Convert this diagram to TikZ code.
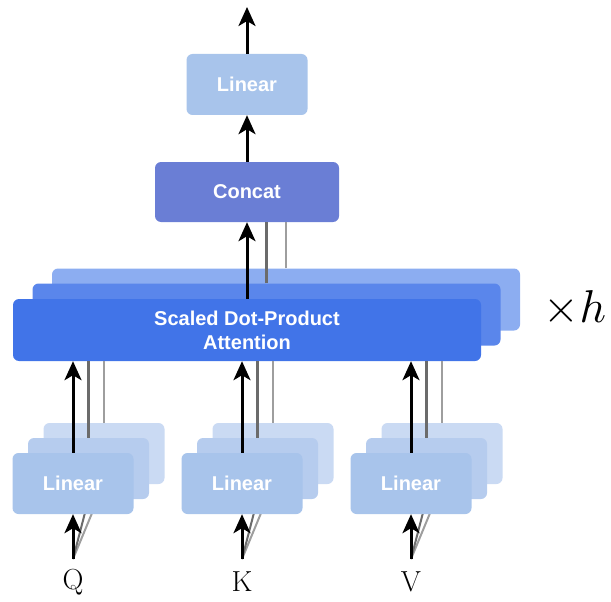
\documentclass[tikz,border=0pt]{standalone}
\usepackage{fontspec}
\setsansfont{Liberation Sans}
\usetikzlibrary{arrows.meta}

\definecolor{linfront}{HTML}{A8C4EB}
\definecolor{linmid}{HTML}{B6CCEE}
\definecolor{linback}{HTML}{CADAF3}
\definecolor{attfront}{HTML}{4174E8}
\definecolor{attmid}{HTML}{5A86EB}
\definecolor{attback}{HTML}{8CADF1}
\definecolor{concatblue}{HTML}{6A7ED5}

\tikzset{
  block/.style={rectangle,rounded corners=6pt,inner sep=0pt,text=white,
    font=\sffamily\bfseries\fontsize{20}{24}\selectfont},
  linbox/.style={block,minimum width=121pt,minimum height=61pt},
  attbox/.style={block,minimum width=468pt,minimum height=62pt,align=center},
  arr/.style={line width=3pt,-{Stealth[length=19pt,width=17pt,inset=5pt]}},
  darkline/.style={line width=2.5pt,draw=black!58},
  lightline/.style={line width=2.5pt,draw=black!38},
  darkfan/.style={line width=2pt,draw=black!58},
  lightfan/.style={line width=2pt,draw=black!38},
  qkv/.style={font=\fontsize{29}{34}\selectfont,inner sep=0pt}
}

\begin{document}
\begin{tikzpicture}[x=1pt,y=-1pt]
\useasboundingbox (0,0) rectangle (611,602);

% output
\node[linbox,fill=linfront] (lintop) at (247,84.5) {Linear};
\node[block,fill=concatblue,minimum width=184pt,minimum height=60pt] (concat) at (247,192) {Concat};
\coordinate (out) at (247,7);

% attention heads
\node[attbox,fill=attback] (att3) at (286,299.5) {};
\draw[lightline] (att3.north) -- (att3.north |- concat.south);
\node[attbox,fill=attmid] (att2) at (266.5,314.5) {};
\draw[darkline] (att2.north) -- (att2.north |- concat.south);
\node[attbox,fill=attfront] (att1) at (247,330) {Scaled Dot-Product\\Attention};

\draw[arr] (att1.north) -- (concat.south);
\draw[arr] (concat.north) -- (lintop.south);
\draw[arr] (lintop.north) -- (out);

\node[anchor=base,scale=4.6] (heads) at (575,322) {$\times h$};

% Q
\node[linbox,fill=linback] (lq3) at (104,453.5) {};
\draw[lightline] (lq3.north) -- (lq3.north |- att1.south);
\node[linbox,fill=linmid] (lq2) at (88.5,468.5) {};
\draw[darkline] (lq2.north) -- (lq2.north |- att1.south);
\coordinate (qin) at (73,559);
\draw[lightfan] (qin) -- (lq3.south);
\draw[darkfan] (qin) -- (lq2.south);
\node[linbox,fill=linfront] (lq1) at (73,483.5) {Linear};
\draw[arr] (lq1.north) -- (lq1.north |- att1.south);
\draw[arr] (qin) -- (lq1.south);
\node[qkv] (q) at (73,582) {Q};

% K
\node[linbox,fill=linback] (lk3) at (273,453.5) {};
\draw[lightline] (lk3.north) -- (lk3.north |- att1.south);
\node[linbox,fill=linmid] (lk2) at (257.5,468.5) {};
\draw[darkline] (lk2.north) -- (lk2.north |- att1.south);
\coordinate (kin) at (242,559);
\draw[lightfan] (kin) -- (lk3.south);
\draw[darkfan] (kin) -- (lk2.south);
\node[linbox,fill=linfront] (lk1) at (242,483.5) {Linear};
\draw[arr] (lk1.north) -- (lk1.north |- att1.south);
\draw[arr] (kin) -- (lk1.south);
\node[qkv] (k) at (242,582) {K};

% V
\node[linbox,fill=linback] (lv3) at (442,453.5) {};
\draw[lightline] (lv3.north) -- (lv3.north |- att1.south);
\node[linbox,fill=linmid] (lv2) at (426.5,468.5) {};
\draw[darkline] (lv2.north) -- (lv2.north |- att1.south);
\coordinate (vin) at (411,559);
\draw[lightfan] (vin) -- (lv3.south);
\draw[darkfan] (vin) -- (lv2.south);
\node[linbox,fill=linfront] (lv1) at (411,483.5) {Linear};
\draw[arr] (lv1.north) -- (lv1.north |- att1.south);
\draw[arr] (vin) -- (lv1.south);
\node[qkv] (v) at (411,582) {V};
\end{tikzpicture}
\end{document}
